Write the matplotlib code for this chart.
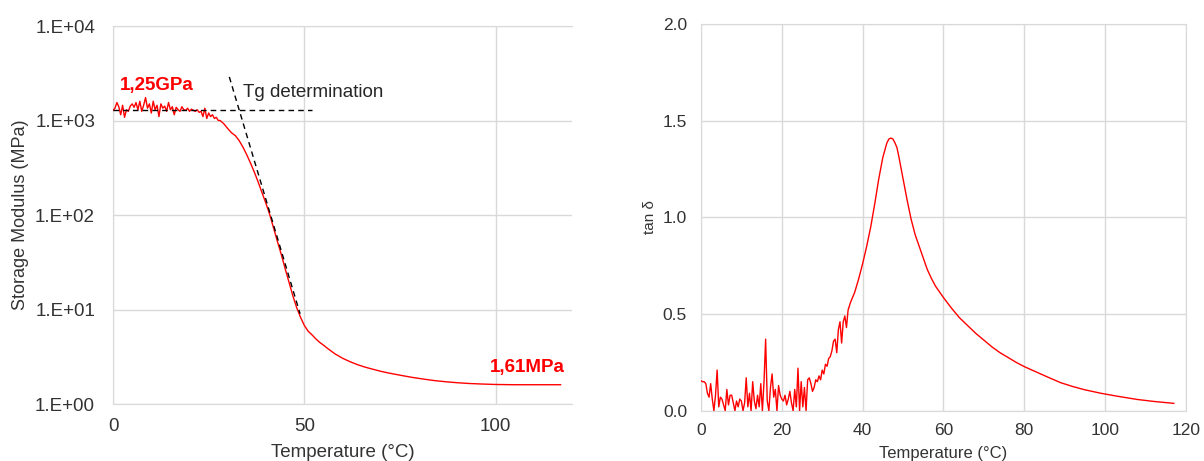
import matplotlib
matplotlib.use("Agg")
import matplotlib.pyplot as plt
from matplotlib.ticker import FixedLocator, NullLocator

plt.rcParams['font.family'] = ['Liberation Sans', 'DejaVu Sans']

# storage modulus E' (MPa) vs temperature (°C)
mod_temp = [0, 0.5, 1, 1.5, 2, 2.5, 3, 3.5, 4, 4.5, 5, 5.5, 6, 6.5, 7, 7.5, 8, 8.5, 9, 9.5,
            10, 10.5, 11, 11.5, 12, 12.5, 13, 13.5, 14, 14.5, 15, 15.5, 16, 16.5, 17, 17.5,
            18, 18.5, 19, 19.5, 20, 20.5, 21, 21.5, 22, 22.5, 23, 23.5, 24, 24.5, 25, 25.5,
            26, 26.5, 27, 27.5,
            28, 29, 30, 31, 32, 33, 34, 35, 36, 37, 38, 39, 40, 41, 42, 43, 44, 45, 46, 47,
            48, 49, 50, 51, 52, 53, 54, 55, 56, 58, 60, 62, 64, 66, 68, 70, 72, 75, 78, 81,
            84, 87, 90, 93, 96, 100, 105, 110, 117]
mod_value = [1280, 1350, 1550, 1400, 1150, 1450, 1080, 1300, 1250, 1420, 1500, 1380, 1550,
             1300, 1600, 1250, 1450, 1750, 1350, 1500, 1200, 1600, 1300, 1450, 1100, 1500,
             1350, 1420, 1250, 1550, 1300, 1400, 1150, 1380, 1300, 1250, 1400, 1300, 1280,
             1350, 1250, 1320, 1280, 1250, 1300, 1220, 1250, 1100, 1350, 1050, 1200, 1100,
             1150, 1050, 1080, 1000,
             1000, 920, 820, 740, 690, 610, 520, 430, 350, 280, 220, 170, 132, 100, 72, 52,
             38, 27, 19.5, 14, 10.5, 8.3, 6.8, 5.9, 5.4, 4.9, 4.5, 4.2, 3.9, 3.4, 3.05, 2.8,
             2.6, 2.45, 2.33, 2.22, 2.13, 2.02, 1.92, 1.84, 1.77, 1.72, 1.68, 1.65, 1.63,
             1.61, 1.6, 1.6, 1.6]

# tangent construction for Tg
plateau_x = [0, 51.9]
plateau_y = [1290, 1290]
slope_x = [30.4, 48.9]
slope_y = [2890, 9.0]

# tan delta vs temperature
tan_temp = [0.0, 0.4, 0.8, 1.2, 1.6, 2.0, 2.4, 2.8, 3.2, 3.6, 4.0, 4.4, 4.8, 5.2, 5.6, 6.0,
            6.4, 6.8, 7.2, 7.6, 8.0, 8.4, 8.8, 9.2, 9.6, 10.0, 10.4, 10.8, 11.2, 11.6, 12.0,
            12.4, 12.8, 13.2, 13.6, 14.0, 14.4, 14.8, 15.2, 15.6, 16.0, 16.4, 16.8, 17.2,
            17.6, 18.0, 18.4, 18.8, 19.2, 19.6, 20.0, 20.4, 20.8, 21.2, 21.6, 22.0, 22.4,
            22.8, 23.2, 23.6, 24.0, 24.4, 24.8, 25.2, 25.6, 26.0, 26.4, 26.8, 27.2, 27.6,
            28.0, 28.4, 28.8, 29.2, 29.6, 30.0, 30.4, 30.8, 31.2, 31.6, 32.0, 32.4, 32.8,
            33.2, 33.6, 34.0, 34.4, 34.8, 35.2, 35.6, 36.0, 36.4,
            37, 38, 39, 40, 41, 42, 43, 44, 45, 46, 46.5, 47, 47.5, 48, 48.5, 49, 50, 51,
            52, 53, 54, 55, 56, 57, 58, 59, 60, 62, 64, 66, 68, 70, 72, 74, 76, 78, 80, 83,
            86, 89, 92, 95, 99, 103, 108, 112, 115, 117]
tan_value = [0.155, 0.15, 0.15, 0.14, 0.09, 0.07, 0.14, 0.06, 0.0, 0.08, 0.21, 0.02, 0.07,
             0.06, 0.03, 0.0, 0.11, 0.03, 0.08, 0.08, 0.04, 0.0, 0.05, 0.02, 0.06, 0.05, 0.0,
             0.04, 0.17, 0.02, 0.09, 0.0, 0.15, 0.05, 0.01, 0.08, 0.02, 0.14, 0.0, 0.15, 0.37,
             0.05, 0.0, 0.12, 0.19, 0.07, 0.11, 0.0, 0.13, 0.08, 0.06, 0.05, 0.08, 0.03, 0.06,
             0.1, 0.04, 0.0, 0.11, 0.02, 0.22, 0.0, 0.15, 0.02, 0.12, 0.0, 0.16, 0.17, 0.14,
             0.1, 0.12, 0.16, 0.15, 0.18, 0.16, 0.21, 0.19, 0.24, 0.23, 0.27, 0.28, 0.31,
             0.36, 0.37, 0.30, 0.42, 0.46, 0.35, 0.46, 0.49, 0.43, 0.52,
             0.56, 0.61, 0.68, 0.76, 0.85, 0.95, 1.07, 1.2, 1.31, 1.385, 1.405, 1.41, 1.405,
             1.385, 1.36, 1.31, 1.2, 1.09, 0.99, 0.91, 0.85, 0.79, 0.73, 0.685, 0.645, 0.615,
             0.585, 0.53, 0.48, 0.44, 0.40, 0.365, 0.33, 0.30, 0.275, 0.25, 0.228, 0.2,
             0.172, 0.145, 0.125, 0.108, 0.09, 0.075, 0.058, 0.048, 0.042, 0.038]

mod_ticks = [1, 10, 100, 1000, 10000]
mod_ticklabels = ['1.E+00', '1.E+01', '1.E+02', '1.E+03', '1.E+04']

red = '#ff0000'
grid_c = '#d9d9d9'
text_c = '#333333'

fig = plt.figure(figsize=(12.04, 4.61), dpi=100)

# ---- left: storage modulus
ax1 = fig.add_axes([0.0939, 0.1236, 0.3812, 0.8200])
ax1.set_yscale('log')
ax1.plot(mod_temp, mod_value, color=red, lw=1.0, zorder=3)
ax1.plot(plateau_x, plateau_y, color='black', lw=1.0, ls=(0, (4, 3)), zorder=4)
ax1.plot(slope_x, slope_y, color='black', lw=1.0, ls=(0, (4, 3)), zorder=4)
ax1.set_xlim(0, 120)
ax1.set_ylim(1, 10000)
ax1.xaxis.set_major_locator(FixedLocator([0, 50, 100]))
ax1.yaxis.set_major_locator(FixedLocator(mod_ticks))
ax1.yaxis.set_minor_locator(NullLocator())
ax1.set_yticklabels(mod_ticklabels)
ax1.grid(True, color=grid_c, lw=1.0)
ax1.set_axisbelow(True)
ax1.spines['right'].set_visible(False)
for s in ['left', 'bottom', 'top']:
    ax1.spines[s].set_color(grid_c)
ax1.tick_params(axis='both', length=0, labelsize=13.5, labelcolor=text_c)
ax1.tick_params(axis='y', pad=13)
ax1.tick_params(axis='x', pad=10)
ax1.set_xlabel('Temperature (°C)', fontsize=13.5, color=text_c)
ax1.set_ylabel('Storage Modulus (MPa)', fontsize=13, color=text_c)
ax1.xaxis.set_label_coords(0.5, -0.105)
ax1.yaxis.set_label_coords(-0.183, 0.5)

ax1.text(1.8, 2370, '1,25GPa', color=red, fontsize=13.5, fontweight='bold',
         ha='left', va='center')
ax1.text(118, 2.45, '1,61MPa', color=red, fontsize=13.5, fontweight='bold',
         ha='right', va='center')
ax1.text(34.1, 1960, 'Tg determination', color='#262626', fontsize=13.5,
         ha='left', va='center')

# ---- right: tan delta
ax2 = fig.add_axes([0.5822, 0.1091, 0.4028, 0.8389])
ax2.plot(tan_temp, tan_value, color=red, lw=1.0, zorder=3)
ax2.set_xlim(0, 120)
ax2.set_ylim(0, 2.0)
ax2.set_xticks([0, 20, 40, 60, 80, 100, 120])
ax2.set_yticks([0.0, 0.5, 1.0, 1.5, 2.0])
ax2.set_yticklabels(['0.0', '0.5', '1.0', '1.5', '2.0'])
ax2.grid(True, color=grid_c, lw=1.0)
ax2.set_axisbelow(True)
for s in ax2.spines.values():
    s.set_color(grid_c)
ax2.tick_params(axis='both', length=0, labelsize=12.5, labelcolor=text_c)
ax2.tick_params(axis='y', pad=10)
ax2.tick_params(axis='x', pad=9)
ax2.set_xlabel('Temperature (°C)', fontsize=12, color=text_c)
ax2.set_ylabel('tan δ', fontsize=11, color=text_c)
ax2.xaxis.set_label_coords(0.5, -0.09)
ax2.yaxis.set_label_coords(-0.09, 0.5)

fig.savefig('out.png', dpi=100)
